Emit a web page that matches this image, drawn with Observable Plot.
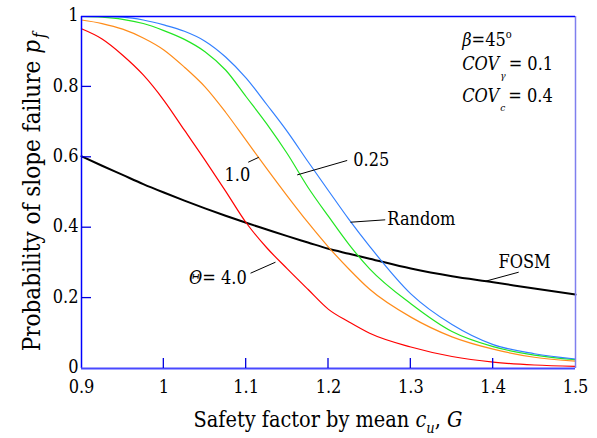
<!DOCTYPE html>
<html><head><meta charset="utf-8">
<script src="https://cdn.jsdelivr.net/npm/d3@7"></script>
<script src="https://cdn.jsdelivr.net/npm/@observablehq/plot@0.6"></script>
<style>body{margin:0;background:#fff} svg{display:block} svg text{font-stretch:condensed}</style>
</head><body><div id="chart"></div>
<script>
// ---- data ----
const safetyFactor = [0.9, 0.925, 0.95, 0.975, 1.0, 1.025, 1.05, 1.075, 1.1, 1.125, 1.15, 1.175, 1.2, 1.225, 1.25, 1.3, 1.35, 1.4, 1.45, 1.5];
const pfTheta4   = [0.965, 0.936, 0.890, 0.834, 0.762, 0.677, 0.592, 0.504, 0.414, 0.343, 0.283, 0.225, 0.168, 0.132, 0.100, 0.061, 0.034, 0.018, 0.010, 0.006];
const pfTheta1   = [0.990, 0.980, 0.964, 0.939, 0.905, 0.856, 0.800, 0.728, 0.648, 0.568, 0.490, 0.415, 0.345, 0.282, 0.225, 0.146, 0.090, 0.055, 0.032, 0.021];
const pfTheta025 = [1.000, 0.998, 0.992, 0.980, 0.960, 0.935, 0.900, 0.848, 0.772, 0.695, 0.610, 0.515, 0.432, 0.352, 0.283, 0.184, 0.105, 0.062, 0.038, 0.025];
const pfRandom   = [1.000, 1.000, 0.998, 0.990, 0.976, 0.958, 0.930, 0.885, 0.825, 0.750, 0.673, 0.588, 0.505, 0.423, 0.347, 0.212, 0.125, 0.068, 0.042, 0.027];
const pfFOSM     = [0.603, 0.576, 0.550, 0.524, 0.500, 0.477, 0.455, 0.434, 0.414, 0.395, 0.376, 0.358, 0.340, 0.326, 0.312, 0.284, 0.262, 0.245, 0.227, 0.210];

const seriesNames  = ["Θ = 4.0", "1.0", "0.25", "Random", "FOSM"];
const seriesColors = ["#ff0000", "#ff8c1a", "#22e622", "#3380ff", "#000000"];

const xTicks = [0.9, 1, 1.1, 1.2, 1.3, 1.4, 1.5];
const xTickLabels = ["0.9", "1", "1.1", "1.2", "1.3", "1.4", "1.5"];
const yTicks = [0, 0.2, 0.4, 0.6, 0.8, 1];
const yTickLabels = ["0", "0.2", "0.4", "0.6", "0.8", "1"];

// in-plot labels and their leader lines
const labelText   = ["0.25", "1.0", "Random", "FOSM"];
const labelX      = [1.230, 1.105, 1.2714, 1.4065];
const labelY      = [0.591, 0.548, 0.425, 0.302];
const labelAnchor = ["start", "end", "start", "start"];
const thetaLabelX = 1.1013, thetaLabelY = 0.255;
const leaderX1 = [1.162, 1.1025, 1.2267, 1.1053, 1.3907];
const leaderY1 = [0.550, 0.586, 0.4156, 0.2707, 0.248];
const leaderX2 = [1.2227, 1.1153, 1.2689, 1.1356, 1.431];
const leaderY2 = [0.591, 0.600, 0.4224, 0.302, 0.2736];

// parameter box
const paramX = 1.363;
const paramY = [0.915, 0.847, 0.757];

const FONT = "DejaVu Serif";

// ---- build tables ----
const seriesValues = [pfTheta4, pfTheta1, pfTheta025, pfRandom, pfFOSM];
const rows = seriesNames.flatMap((s, i) => safetyFactor.map((x, j) => ({series: s, x, pf: seriesValues[i][j]})));
const labels = labelText.map((t, i) => ({t, x: labelX[i], y: labelY[i], a: labelAnchor[i]}));
const leaders = leaderX1.map((x1, i) => ({x1, y1: leaderY1[i], x2: leaderX2[i], y2: leaderY2[i]}));
const innerXTicks = xTicks.slice(1, -1);
const innerYTicks = yTicks.slice(1, -1);
const xDomain = [xTicks[0], xTicks[xTicks.length - 1]];
const yDomain = [yTicks[0], yTicks[yTicks.length - 1]];

const plot = Plot.plot({
  width: 597, height: 438,
  marginLeft: 81, marginRight: 22, marginTop: 16, marginBottom: 70,
  style: {fontFamily: FONT, fontSize: "18px", color: "#000", background: "#fff", overflow: "visible"},
  x: {domain: xDomain},
  y: {domain: yDomain},
  color: {domain: seriesNames, range: seriesColors},
  marks: [
    Plot.line(rows.filter(d => d.series === "FOSM"), {x: "x", y: "pf", stroke: "#000", strokeWidth: 2, curve: "monotone-x"}),
    Plot.line(rows.filter(d => d.series !== "FOSM"), {x: "x", y: "pf", z: "series", stroke: "series", strokeWidth: 1.2, curve: "monotone-x"}),
    Plot.link(leaders, {x1: "x1", y1: "y1", x2: "x2", y2: "y2", stroke: "#000", strokeWidth: 1}),
    Plot.text(labels.filter(d => d.a === "start"), {x: "x", y: "y", text: "t", textAnchor: "start", fontSize: 18, fill: "#000"}),
    Plot.text(labels.filter(d => d.a === "end"), {x: "x", y: "y", text: "t", textAnchor: "end", fontSize: 18, fill: "#000"}),
    // frame
    Plot.ruleX([xDomain[0]], {stroke: "#0000ff", strokeWidth: 1.5}),
    Plot.ruleX([xDomain[1]], {stroke: "#7f7fee", strokeWidth: 1.5}),
    Plot.ruleY([yDomain[1]], {stroke: "#0000ff", strokeWidth: 1.5}),
    Plot.ruleY([yDomain[0]], {stroke: "#4848ff", strokeWidth: 2}),
    // tick labels
    Plot.axisX(xTicks, {tickSize: 0, tickPadding: 12, label: null, tickFormat: d => xTickLabels[xTicks.indexOf(d)], fontSize: 18}),
    Plot.axisY(yTicks, {tickSize: 0, tickPadding: 3, dy: -1, label: null, tickFormat: d => yTickLabels[yTicks.indexOf(d)], fontSize: 18})
  ]
});
document.getElementById("chart").appendChild(plot);

const svg = d3.select(plot);
const sx = plot.scale("x"), sy = plot.scale("y");

// ---- inward ticks, placed with Plot's scales ----
{
  const gt = svg.append("g").attr("stroke", "#0000dd").attr("stroke-width", 1.3);
  const yb = sy.apply(yDomain[0]), xl = sx.apply(xDomain[0]);
  innerXTicks.forEach(v => gt.append("line").attr("x1", sx.apply(v)).attr("x2", sx.apply(v)).attr("y1", yb).attr("y2", yb - 10));
  innerYTicks.forEach(v => gt.append("line").attr("y1", sy.apply(v)).attr("y2", sy.apply(v)).attr("x1", xl).attr("x2", xl + 10));
}

// ---- rich text (italics / subscripts) ----
const g = svg.append("g").attr("fill", "#000").attr("text-anchor", "start").attr("font-family", FONT);

// Θ = 4.0 label
{
  const t = g.append("text").attr("x", sx.apply(thetaLabelX)).attr("y", sy.apply(thetaLabelY)).attr("dy", "0.32em")
    .attr("text-anchor", "end").attr("font-size", 18);
  t.append("tspan").attr("font-style", "italic").text("Θ");
  t.append("tspan").text("= 4.0");
}
// parameter box
{
  const x0 = sx.apply(paramX);
  const t1 = g.append("text").attr("x", x0).attr("y", sy.apply(paramY[0])).attr("font-size", 18);
  t1.append("tspan").attr("font-style", "italic").text("β");
  t1.append("tspan").text("=45");
  t1.append("tspan").attr("font-size", 11).attr("dy", -8).text("o");
  const cov = (yv, sub, val) => {
    const t = g.append("text").attr("x", x0).attr("y", sy.apply(yv)).attr("font-size", 18);
    t.append("tspan").attr("font-style", "italic").text("COV");
    t.append("tspan").attr("font-style", "italic").attr("font-size", 10).attr("dy", 9).attr("dx", 1).text(sub);
    t.append("tspan").attr("dy", -9).attr("dx", 3).text("= " + val);
  };
  cov(paramY[1], "γ", "0.1");
  cov(paramY[2], "c", "0.4");
}
// x title
{
  const cx = (sx.apply(xDomain[0]) + sx.apply(xDomain[1])) / 2;
  const t = g.append("text").attr("x", cx).attr("y", 427).attr("text-anchor", "middle").attr("font-size", 21.5);
  t.append("tspan").text("Safety factor by mean ");
  t.append("tspan").attr("font-style", "italic").text("c");
  t.append("tspan").attr("font-style", "italic").attr("font-size", 14.5).attr("dy", 6).text("u");
  t.append("tspan").attr("dy", -6).text(", ");
  t.append("tspan").attr("font-style", "italic").text("G");
}
// y title
{
  const cy = (sy.apply(yDomain[0]) + sy.apply(yDomain[1])) / 2;
  const t = g.append("text").attr("transform", `translate(40,${cy}) rotate(-90)`).attr("text-anchor", "middle").attr("font-size", 24);
  t.append("tspan").text("Probability of slope failure ");
  t.append("tspan").attr("font-style", "italic").text("p");
  t.append("tspan").attr("font-style", "italic").attr("font-size", 16).attr("dy", 5).attr("dx", 2).text("f");
}
</script>
</body></html>
